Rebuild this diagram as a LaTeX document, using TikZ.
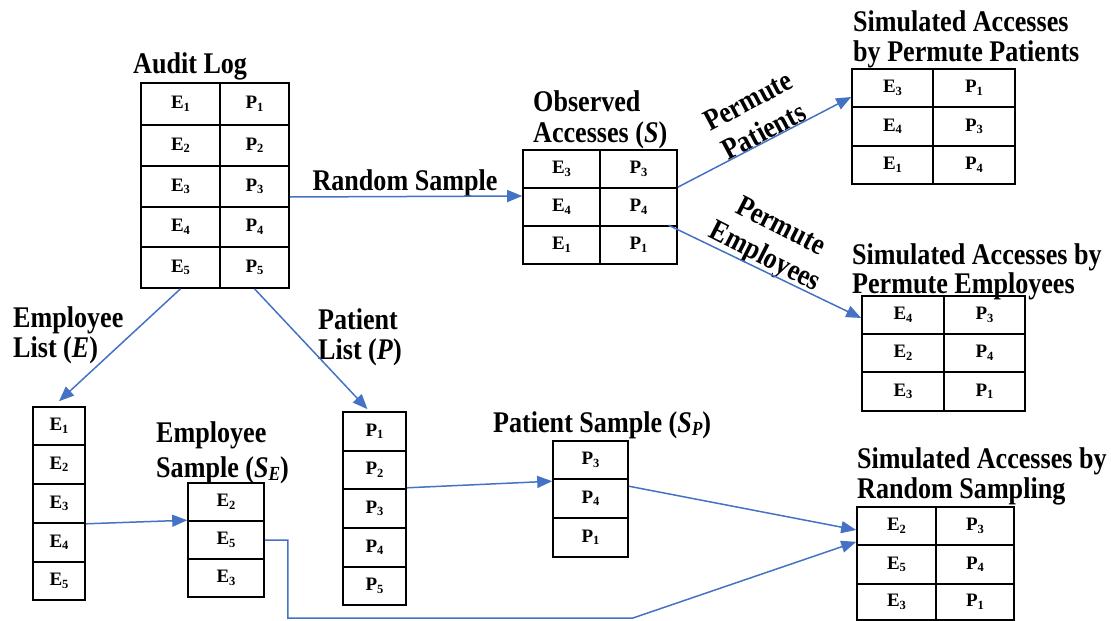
\documentclass[tikz,border=0pt]{standalone}
\usepackage{fontspec}
\setmainfont{Liberation Serif}
\newfontfamily\ttlfont[FakeStretch=0.87]{Liberation Serif}
\usetikzlibrary{arrows.meta,calc}
\definecolor{arrowblue}{RGB}{68,114,196}
\newcommand\csub[1]{\raisebox{-2.5pt}{\fontsize{12.5}{12.5}\selectfont #1}}
\newcommand\tsub[1]{\raisebox{-3pt}{\fontsize{20}{20}\selectfont\itshape #1}}
\newcommand\ee[1]{E\csub{#1}}
\newcommand\pp[1]{P\csub{#1}}
\newcommand\tcell[6]{\node[cell, minimum width={(#4-#2)*1pt}, minimum height={(#5-#3)*1pt}] (#1) at ({(#2+#4)/2},{(#3+#5)/2}) {#6};}
\tikzset{
  cell/.style={draw, line width=1.6pt, inner sep=0pt, font=\bfseries\fontsize{19}{22}\selectfont},
  ttl/.style={inner sep=0pt, anchor=base west, font=\ttlfont\bfseries\fontsize{30}{30}\selectfont},
  conn/.style={draw=arrowblue, line width=1.5pt, -{Triangle[length=15pt,width=12pt]}},
}
\begin{document}
\begin{tikzpicture}[x=1pt,y=-1pt]
\useasboundingbox (0,0) rectangle (1111,621);
% Audit log
\tcell{al-1-1}{141}{83}{220}{125}{\ee1} \tcell{al-1-2}{220}{83}{289}{125}{\pp1}
\tcell{al-2-1}{141}{125}{220}{166}{\ee2} \tcell{al-2-2}{220}{125}{289}{166}{\pp2}
\tcell{al-3-1}{141}{166}{220}{207}{\ee3} \tcell{al-3-2}{220}{166}{289}{207}{\pp3}
\tcell{al-4-1}{141}{207}{220}{247}{\ee4} \tcell{al-4-2}{220}{207}{289}{247}{\pp4}
\tcell{al-5-1}{141}{247}{220}{288}{\ee5} \tcell{al-5-2}{220}{247}{289}{288}{\pp5}
% Observed
\tcell{obs-1-1}{523}{150}{600}{188}{\ee3} \tcell{obs-1-2}{600}{150}{677}{188}{\pp3}
\tcell{obs-2-1}{523}{188}{600}{226}{\ee4} \tcell{obs-2-2}{600}{188}{677}{226}{\pp4}
\tcell{obs-3-1}{523}{226}{600}{264}{\ee1} \tcell{obs-3-2}{600}{226}{677}{264}{\pp1}
% Sim permute patients
\tcell{spp-1-1}{852}{69}{933}{107}{\ee3} \tcell{spp-1-2}{933}{69}{1015}{107}{\pp1}
\tcell{spp-2-1}{852}{107}{933}{146}{\ee4} \tcell{spp-2-2}{933}{107}{1015}{146}{\pp3}
\tcell{spp-3-1}{852}{146}{933}{184}{\ee1} \tcell{spp-3-2}{933}{146}{1015}{184}{\pp4}
% Sim permute employees
\tcell{spe-1-1}{862}{296}{944}{334}{\ee4} \tcell{spe-1-2}{944}{296}{1025}{334}{\pp3}
\tcell{spe-2-1}{862}{334}{944}{372}{\ee2} \tcell{spe-2-2}{944}{334}{1025}{372}{\pp4}
\tcell{spe-3-1}{862}{372}{944}{411}{\ee3} \tcell{spe-3-2}{944}{372}{1025}{411}{\pp1}
% Sim random sampling
\tcell{srs-1-1}{857}{507}{936}{545}{\ee2} \tcell{srs-1-2}{936}{507}{1014}{545}{\pp3}
\tcell{srs-2-1}{857}{545}{936}{584}{\ee5} \tcell{srs-2-2}{936}{545}{1014}{584}{\pp4}
\tcell{srs-3-1}{857}{584}{936}{620}{\ee3} \tcell{srs-3-2}{936}{584}{1014}{620}{\pp1}
% Employee list
\tcell{el-1}{33}{407}{85}{445}{\ee1}
\tcell{el-2}{33}{445}{85}{484}{\ee2}
\tcell{el-3}{33}{484}{85}{523}{\ee3}
\tcell{el-4}{33}{523}{85}{562}{\ee4}
\tcell{el-5}{33}{562}{85}{600}{\ee5}
% Employee sample
\tcell{es-1}{188}{483}{264}{521}{\ee2}
\tcell{es-2}{188}{521}{264}{559}{\ee5}
\tcell{es-3}{188}{559}{264}{597}{\ee3}
% Patient list
\tcell{pl-1}{343}{412}{406}{451}{\pp1}
\tcell{pl-2}{343}{451}{406}{489}{\pp2}
\tcell{pl-3}{343}{489}{406}{528}{\pp3}
\tcell{pl-4}{343}{528}{406}{567}{\pp4}
\tcell{pl-5}{343}{567}{406}{605}{\pp5}
% Patient sample
\tcell{ps-1}{553}{441}{628}{479}{\pp3}
\tcell{ps-2}{553}{479}{628}{518}{\pp4}
\tcell{ps-3}{553}{518}{628}{557}{\pp1}
% Titles
\node[ttl] (t-al) at (133,73) {Audit Log};
\node[ttl] (t-obs1) at (533,111) {Observed};
\node[ttl] (t-obs2) at (533,142) {Accesses (\textit{S})};
\node[ttl] (t-spp1) at (853,31) {Simulated Accesses};
\node[ttl] (t-spp2) at (853,61) {by Permute Patients};
\node[ttl] (t-spe1) at (852,264) {Simulated Accesses by};
\node[ttl] (t-spe2) at (852,293) {Permute Employees};
\node[ttl] (t-srs1) at (857,468) {Simulated Accesses by};
\node[ttl] (t-srs2) at (857,498) {Random Sampling};
\node[ttl] (t-el1) at (13,327) {Employee};
\node[ttl] (t-el2) at (13,357) {List (\textit{E})};
\node[ttl] (t-pl1) at (318,329) {Patient};
\node[ttl] (t-pl2) at (318,359) {List (\textit{P})};
\node[ttl] (t-es1) at (156,442) {Employee};
\node[ttl] (t-es2) at (156,477) {Sample (\textit{S}\tsub{E})};
\node[ttl] (t-ps) at (493,432) {Patient Sample (\textit{S}\tsub{P})};
\node[ttl, anchor=base] (t-rs) at (405,190) {Random Sample};
\node[ttl, anchor=center, align=center, rotate=28] (l-pp) at (756,116) {Permute\\[4pt]Patients};
\node[ttl, anchor=center, align=center, rotate=-27] (l-pe) at (772,243) {Permute\\[4pt]Employees};
% Connectors
\draw[conn] ([yshift=-10.5pt]al-3-2.east) -- ([yshift=11pt]obs-2-1.west);
\draw[conn] (obs-2-2.north east) -- ([yshift=-9pt]spp-1-1.west);
\draw[conn] ([xshift=30pt]obs-3-2.north) -- ([yshift=-3pt]spe-1-1.west);
\draw[conn] (al-5-1.south) -- ([yshift=5pt]el-1.north);
\draw[conn] (al-5-2.south) -- ([xshift=-7pt,yshift=2pt]pl-1.north);
\draw[conn] (el-3.south east) -- (es-2.north west);
\draw[conn] ([yshift=2pt]pl-2.south east) -- ([yshift=-3pt]ps-2.north west);
\draw[conn] ([yshift=-8pt]ps-2.north east) -- ([yshift=-4pt]srs-1-1.west);
\coordinate (bend) at (633,618);
\draw[conn] (es-2.east) -- ++(23,0) |- (bend) -- ([yshift=4pt]srs-1-1.south west);
\end{tikzpicture}
\end{document}
